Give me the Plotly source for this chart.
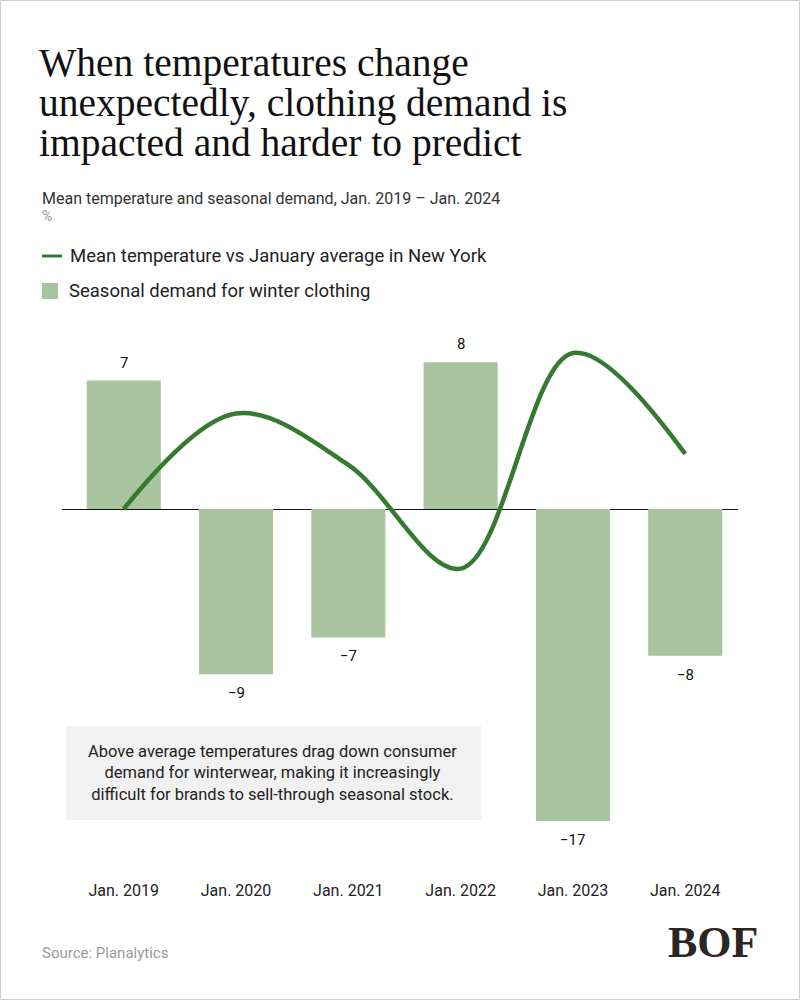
import plotly.graph_objects as go

# ---------------- data ----------------
categories = ["Jan. 2019", "Jan. 2020", "Jan. 2021", "Jan. 2022", "Jan. 2023", "Jan. 2024"]
demand = [7, -9, -7, 8, -17, -8]
temperature = [0, 5.2, 2.4, -3.25, 8.5, 3.0]

title_lines = ["When temperatures change",
               "unexpectedly, clothing demand is",
               "impacted and harder to predict"]
subtitle = "Mean temperature and seasonal demand, Jan. 2019 \u2013 Jan. 2024"
unit = "%"
legend_line = "Mean temperature vs January average in New York"
legend_bar = "Seasonal demand for winter clothing"
note = ("Above average temperatures drag down consumer<br>"
        "demand for winterwear, making it increasingly<br>"
        "difficult for brands to sell-through seasonal stock.")
source = "Source: Planalytics"

# ---------------- style ----------------
W, H = 800, 1000
L, R, T, B = 62, 62, 330, 130
PW, PH = W - L - R, H - T - B
BAR_C = "#a9c59f"
LINE_C = "#357a2f"
SANS = "Roboto, Inter, sans-serif"
SERIF = "Liberation Serif, DejaVu Serif, serif"

def px(x):
    return (x - L) / PW

def py(y):
    return (H - B - y) / PH

fig = go.Figure()
fig.add_trace(go.Bar(x=categories, y=demand, marker_color=BAR_C,
                     marker_line_width=0, name=legend_bar, showlegend=False))
fig.add_trace(go.Scatter(x=categories, y=temperature, mode="lines",
                         line=dict(color=LINE_C, width=4.5, shape="spline", smoothing=1),
                         name=legend_line, showlegend=False))

ann = []
# data labels
for c, v in zip(categories, demand):
    txt = str(v).replace("-", "\u2212")
    ann.append(dict(x=c, y=v, xref="x", yref="y", text=txt, showarrow=False,
                    yshift=18 if v > 0 else -19,
                    font=dict(family=SANS, size=15, color="#111")))
# title
for i, line in enumerate(title_lines):
    ann.append(dict(x=px(37), y=py(63 + 40 * i), xref="paper", yref="paper",
                    xanchor="left", yanchor="middle", text=line, showarrow=False,
                    font=dict(family=SERIF, size=39.5, color="#111")))
ann.append(dict(x=px(40), y=py(198), xref="paper", yref="paper", xanchor="left",
                yanchor="middle", text=subtitle, showarrow=False,
                font=dict(family=SANS, size=16, color="#333")))
ann.append(dict(x=px(40), y=py(216), xref="paper", yref="paper", xanchor="left",
                yanchor="middle", text=unit, showarrow=False,
                font=dict(family=SANS, size=14, color="#999")))
# legend
ann.append(dict(x=px(68), y=py(256), xref="paper", yref="paper", xanchor="left",
                yanchor="middle", text=legend_line, showarrow=False,
                font=dict(family=SANS, size=18.5, color="#222")))
ann.append(dict(x=px(67), y=py(291), xref="paper", yref="paper", xanchor="left",
                yanchor="middle", text=legend_bar, showarrow=False,
                font=dict(family=SANS, size=18.5, color="#222")))
# note
ann.append(dict(x=px(272), y=py(773), xref="paper", yref="paper", xanchor="center",
                yanchor="middle", text=note, showarrow=False,
                font=dict(family=SANS, size=16.5, color="#222")))
# source
ann.append(dict(x=px(40), y=py(953), xref="paper", yref="paper", xanchor="left",
                yanchor="middle", text=source, showarrow=False,
                font=dict(family=SANS, size=15, color="#999")))
# logo
ann.append(dict(x=px(713), y=py(942), xref="paper", yref="paper", xanchor="center",
                yanchor="middle", text="<b>BOF</b>", showarrow=False,
                font=dict(family=SERIF, size=44, color="#2a2622")))

shapes = [
    dict(type="rect", xref="paper", yref="paper", x0=px(66), x1=px(481),
         y0=py(820), y1=py(726), fillcolor="#f0f1f0", line_width=0, layer="below"),
    dict(type="line", xref="paper", yref="paper", x0=px(42), x1=px(62),
         y0=py(256), y1=py(256), line=dict(color=LINE_C, width=3)),
    dict(type="rect", xref="paper", yref="paper", x0=px(42), x1=px(58),
         y0=py(299), y1=py(283), fillcolor=BAR_C, line_width=0),
    dict(type="rect", xref="paper", yref="paper", x0=px(0.5), x1=px(W - 0.5),
         y0=py(H - 0.5), y1=py(0.5), line=dict(color="#cfcfcf", width=1)),
]

zero_px = 509
scale = 18.35
fig.update_layout(
    width=W, height=H, margin=dict(l=L, r=R, t=T, b=B),
    paper_bgcolor="white", plot_bgcolor="white",
    bargap=0.34, showlegend=False,
    annotations=ann, shapes=shapes,
    xaxis=dict(range=[-0.55, 5.47], showgrid=False, zeroline=False, showline=False,
               ticks="", tickfont=dict(family=SANS, size=16, color="#222"),
               ticklabelstandoff=9),
    yaxis=dict(range=[-(H - B - zero_px) / scale, (zero_px - T) / scale],
               showgrid=False, zeroline=True, zerolinecolor="#111", zerolinewidth=1.2,
               showticklabels=False, showline=False),
)
fig.write_html("out.html", config={"displayModeBar": False},
               post_script="document.body.style.margin='0';")
